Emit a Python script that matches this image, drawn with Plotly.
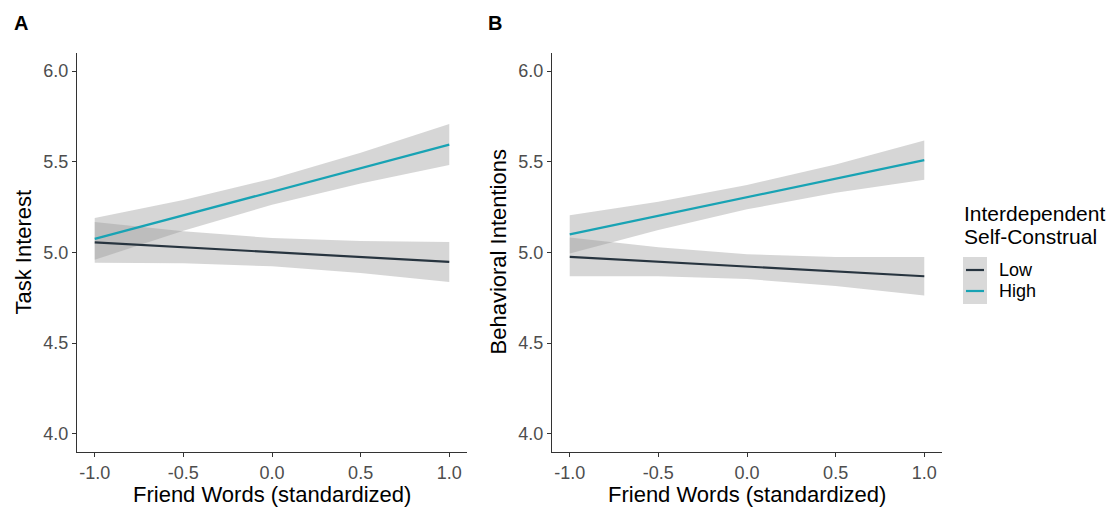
import plotly.graph_objects as go

W, H = 1115, 507

# ---- data ----
friend_x = [-1.0, -0.5, 0.0, 0.5, 1.0]
groups = ["Low", "High"]

# Panel A: Task Interest
a_low_fit = [5.056, 5.029, 5.002, 4.975, 4.948]
a_low_lower = [4.944, 4.941, 4.924, 4.887, 4.838]
a_low_upper = [5.168, 5.117, 5.080, 5.063, 5.058]
a_high_fit = [5.075, 5.205, 5.335, 5.465, 5.595]
a_high_lower = [4.960, 5.120, 5.263, 5.380, 5.482]
a_high_upper = [5.190, 5.290, 5.407, 5.550, 5.708]

# Panel B: Behavioral Intentions
b_low_fit = [4.976, 4.949, 4.922, 4.895, 4.869]
b_low_lower = [4.869, 4.869, 4.854, 4.815, 4.763]
b_low_upper = [5.083, 5.029, 4.990, 4.975, 4.975]
b_high_fit = [5.100, 5.202, 5.305, 5.407, 5.509]
b_high_lower = [4.995, 5.124, 5.238, 5.329, 5.401]
b_high_upper = [5.205, 5.280, 5.372, 5.485, 5.617]

x_ticks = [-1.0, -0.5, 0.0, 0.5, 1.0]
x_tick_labels = ["-1.0", "-0.5", "0.0", "0.5", "1.0"]
y_ticks = [4.0, 4.5, 5.0, 5.5, 6.0]
y_tick_labels = ["4.0", "4.5", "5.0", "5.5", "6.0"]

panel_labels = ["A", "B"]
y_titles = ["Task Interest", "Behavioral Intentions"]
x_title = "Friend Words (standardized)"
legend_title_lines = ["Interdependent", "Self-Construal"]

colors = {"Low": "#27343F", "High": "#18A3B4"}
ribbon_fill = "rgba(153,153,153,0.4)"
FONT = "Liberation Sans, Arial, sans-serif"

fig = go.Figure()

panels = [
    ("x", "y", {"Low": (a_low_fit, a_low_lower, a_low_upper),
                "High": (a_high_fit, a_high_lower, a_high_upper)}),
    ("x2", "y2", {"Low": (b_low_fit, b_low_lower, b_low_upper),
                  "High": (b_high_fit, b_high_lower, b_high_upper)}),
]

for xa, ya, data in panels:
    for g in groups:
        fit, lo, up = data[g]
        fig.add_trace(go.Scatter(
            x=friend_x + friend_x[::-1], y=up + lo[::-1],
            fill="toself", fillcolor=ribbon_fill, line=dict(width=0),
            mode="lines", showlegend=False, hoverinfo="skip",
            xaxis=xa, yaxis=ya))
    for g in groups:
        fit, lo, up = data[g]
        fig.add_trace(go.Scatter(
            x=friend_x, y=fit, mode="lines", name=g,
            line=dict(color=colors[g], width=2.2),
            showlegend=False, xaxis=xa, yaxis=ya))

def px_x(p):
    return p / W

def px_y(p):
    return 1 - p / H

ydom = [px_y(452), px_y(53)]
axis_common = dict(
    showgrid=False, zeroline=False, showline=True, linecolor="#333333",
    linewidth=1.1, ticks="outside", ticklen=4, tickcolor="#333333",
    tickwidth=1.1, tickfont=dict(family=FONT, size=18, color="#4D4D4D"),
)

fig.update_layout(
    width=W, height=H, margin=dict(l=0, r=0, t=0, b=0),
    plot_bgcolor="white", paper_bgcolor="white", showlegend=False,
    xaxis=dict(domain=[px_x(77), px_x(467)], range=[-1.1, 1.1],
               tickvals=x_ticks, ticktext=x_tick_labels, anchor="y",
               **axis_common),
    yaxis=dict(domain=ydom, range=[3.9, 6.1], tickvals=y_ticks,
               ticktext=y_tick_labels, anchor="x", **axis_common),
    xaxis2=dict(domain=[px_x(552), px_x(942)], range=[-1.1, 1.1],
                tickvals=x_ticks, ticktext=x_tick_labels, anchor="y2",
                **axis_common),
    yaxis2=dict(domain=ydom, range=[3.9, 6.1], tickvals=y_ticks,
                ticktext=y_tick_labels, anchor="x2", **axis_common),
)

ann = []
# panel letters
for lab, xp in zip(panel_labels, [21, 495]):
    ann.append(dict(text=f"<b>{lab}</b>", x=px_x(xp), y=px_y(23),
                    xref="paper", yref="paper", showarrow=False,
                    font=dict(family=FONT, size=20, color="black"),
                    xanchor="center", yanchor="middle"))
# axis titles
for cx in [272, 747]:
    ann.append(dict(text=x_title, x=px_x(cx), y=px_y(494), xref="paper",
                    yref="paper", showarrow=False,
                    font=dict(family=FONT, size=22, color="black"),
                    xanchor="center", yanchor="middle"))
for cx, t in zip([23, 498], y_titles):
    ann.append(dict(text=t, x=px_x(cx), y=px_y(252.5), xref="paper",
                    yref="paper", showarrow=False, textangle=-90,
                    font=dict(family=FONT, size=22, color="black"),
                    xanchor="center", yanchor="middle"))
# legend (manual)
for line_txt, yc in zip(legend_title_lines, [214, 237]):
    ann.append(dict(text=line_txt, x=px_x(962), y=px_y(yc), xref="paper",
                    yref="paper", showarrow=False, align="left",
                    font=dict(family=FONT, size=21, color="black"),
                    xanchor="left", yanchor="middle"))
shapes = [dict(type="rect", xref="paper", yref="paper",
               x0=px_x(963), x1=px_x(987), y0=px_y(304), y1=px_y(257),
               fillcolor="#D9D9D9", line=dict(width=0), layer="below")]
for g, yk in zip(groups, [270, 291]):
    shapes.append(dict(type="line", xref="paper", yref="paper",
                       x0=px_x(966), x1=px_x(984), y0=px_y(yk), y1=px_y(yk),
                       line=dict(color=colors[g], width=2.2)))
    ann.append(dict(text=g, x=px_x(997), y=px_y(yk), xref="paper",
                    yref="paper", showarrow=False,
                    font=dict(family=FONT, size=18, color="black"),
                    xanchor="left", yanchor="middle"))

fig.update_layout(annotations=ann, shapes=shapes)
fig.write_html("out.html")
